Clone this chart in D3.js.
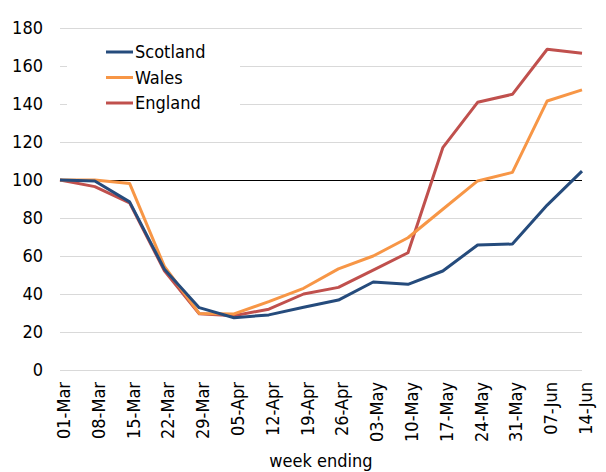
<!DOCTYPE html>
<meta charset="utf-8">
<script src="https://d3js.org/d3.v7.min.js"></script>
<style>
  body { margin: 0; background: #fff; }
  text { font-family: "DejaVu Sans Condensed", "DejaVu Sans", sans-serif; fill: #000; }
</style>
<div id="chart"></div>
<script>
// week ending labels
var weeks = ["01-Mar", "08-Mar", "15-Mar", "22-Mar", "29-Mar", "05-Apr", "12-Apr", "19-Apr",
             "26-Apr", "03-May", "10-May", "17-May", "24-May", "31-May", "07-Jun", "14-Jun"];

// index values (01-Mar = 100)
var scotland = [100, 99.5, 88.5, 53, 32.8, 27.5, 29, 33, 36.8, 46.3, 45.1, 52.1, 65.8, 66.3, 86.8, 104.7];
var wales    = [100, 100, 98.2, 54.5, 29.8, 29.5, 36, 43, 53.2, 60, 69.6, 84.6, 99.5, 104, 141.6, 147.4];
var england  = [100, 96.5, 88, 52.2, 29.6, 28.6, 32, 40, 43.5, 52.6, 61.7, 117, 140.9, 145.1, 168.8, 166.7];

var yTicks = [0, 20, 40, 60, 80, 100, 120, 140, 160, 180];

var series = [
  {name: "Scotland", values: scotland, color: "#254b7c"},
  {name: "Wales", values: wales, color: "#f79646"},
  {name: "England", values: england, color: "#c0504d"}
];

var W = 606, H = 472;
var margin = {top: 28, right: 24, bottom: 102, left: 60};
var width = W - margin.left - margin.right,
    height = H - margin.top - margin.bottom;

var svg = d3.select("#chart").append("svg")
    .attr("width", W)
    .attr("height", H);

var g = svg.append("g")
    .attr("transform", "translate(" + margin.left + "," + margin.top + ")");

var x = d3.scalePoint()
    .domain(weeks)
    .range([0, width]);

var y = d3.scaleLinear()
    .domain([0, 180])
    .range([height, 0]);

// gridlines
g.selectAll(".grid")
  .data(yTicks)
  .enter().append("line")
    .attr("class", "grid")
    .attr("x1", 0)
    .attr("x2", width)
    .attr("y1", function(d) { return y(d); })
    .attr("y2", function(d) { return y(d); })
    .attr("stroke", "#d9d9d9")
    .attr("stroke-width", 1)
    .attr("shape-rendering", "crispEdges");

// y labels
g.selectAll(".ylab")
  .data(yTicks)
  .enter().append("text")
    .attr("class", "ylab")
    .attr("x", -17)
    .attr("y", function(d) { return y(d); })
    .attr("dy", "0.36em")
    .attr("text-anchor", "end")
    .style("font-size", "18px")
    .text(function(d) { return d; });

// x labels, rotated
g.selectAll(".xlab")
  .data(weeks)
  .enter().append("text")
    .attr("class", "xlab")
    .attr("transform", function(d) {
      return "translate(" + (x(d) + 10) + "," + (height + 12) + ") rotate(-90)";
    })
    .attr("text-anchor", "end")
    .style("font-size", "18px")
    .text(function(d) { return d; });

// axis title
svg.append("text")
    .attr("x", 321)
    .attr("y", 467)
    .attr("text-anchor", "middle")
    .style("font-size", "18px")
    .text("week ending");

// legend box (hides gridlines behind it)
var legend = g.append("g");
legend.append("rect")
    .attr("x", 7)
    .attr("y", 8)
    .attr("width", 173)
    .attr("height", 84)
    .attr("fill", "#fff");

// reference line at 100
g.append("line")
    .attr("x1", 0)
    .attr("x2", width)
    .attr("y1", y(100))
    .attr("y2", y(100))
    .attr("stroke", "#000")
    .attr("stroke-width", 1)
    .attr("shape-rendering", "crispEdges");

var line = d3.line()
    .x(function(d, i) { return x(weeks[i]); })
    .y(function(d) { return y(d); });

// draw England first so Scotland / Wales sit on top like the original
[series[2], series[1], series[0]].forEach(function(s) {
  g.append("path")
    .datum(s.values)
    .attr("fill", "none")
    .attr("stroke", s.color)
    .attr("stroke-width", 3)
    .attr("stroke-linejoin", "round")
    .attr("d", line);
});

var items = legend.selectAll(".item")
  .data(series)
  .enter().append("g")
    .attr("transform", function(d, i) { return "translate(46," + (24 + i * 25.5) + ")"; });

items.append("line")
    .attr("x1", 0)
    .attr("x2", 27)
    .attr("stroke", function(d) { return d.color; })
    .attr("stroke-width", 3);

items.append("text")
    .attr("x", 29)
    .attr("dy", "0.36em")
    .style("font-size", "18px")
    .text(function(d) { return d.name; });
</script>
